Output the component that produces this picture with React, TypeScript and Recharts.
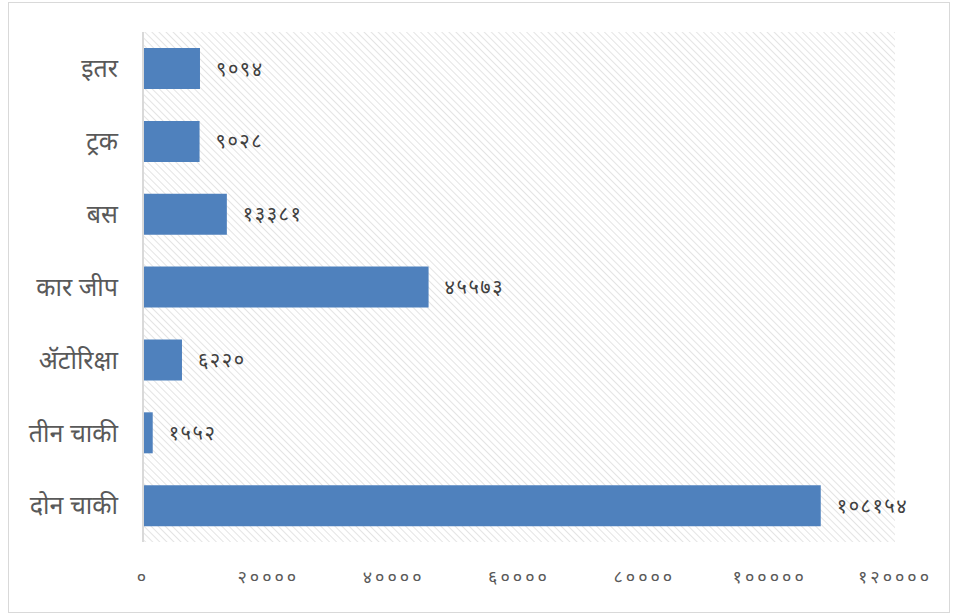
import React from 'react';
import { BarChart, Bar, XAxis, YAxis, CartesianGrid, LabelList } from 'recharts';

const categories = ['इतर', 'ट्रक', 'बस', 'कार जीप', 'ॲटोरिक्षा', 'तीन चाकी', 'दोन चाकी'];
const vehicleCounts = [9094, 9028, 13381, 45573, 6220, 1552, 108154];
const xTicks = [0, 20000, 40000, 60000, 80000, 100000, 120000];

const devDigits = ['०', '१', '२', '३', '४', '५', '६', '७', '८', '९'];
const toDevanagari = (v: number | string) =>
  String(v).replace(/[0-9]/g, d => devDigits[Number(d)]);

const data = categories.map((name, i) => ({ name, value: vehicleCounts[i] }));

const font = '"Noto Sans", "Noto Sans Devanagari", sans-serif';

const App: React.FC = () => {
  return (
    <div
      style={{
        position: 'absolute',
        left: 8,
        top: 2,
        width: 940,
        height: 609,
        border: '1px solid #d9d9d9',
        background: '#fff',
      }}
    >
      <BarChart
        width={940}
        height={609}
        data={data}
        layout="vertical"
        margin={{ top: 29, right: 54, bottom: 0, left: 0 }}
        barCategoryGap="22%"
      >
        <defs>
          <pattern
            id="hatch"
            patternUnits="userSpaceOnUse"
            width={5}
            height={5}
            patternTransform="rotate(-45)"
          >
            <rect width={5} height={5} fill="#ffffff" />
            <line x1={0} y1={0} x2={0} y2={5} stroke="#dedede" strokeWidth={1.6} />
          </pattern>
        </defs>
        <CartesianGrid horizontal={false} vertical={false} fill="url(#hatch)" fillOpacity={1} />
        <XAxis
          type="number"
          domain={[0, 120000]}
          ticks={xTicks}
          tickFormatter={toDevanagari}
          axisLine={false}
          tickLine={false}
          tickSize={0}
          tickMargin={28}
          height={70}
          tick={{ fill: '#595959', fontSize: 18, fontFamily: font, letterSpacing: 3 }}
        />
        <YAxis
          type="category"
          dataKey="name"
          width={134}
          axisLine={{ stroke: '#d9d9d9', strokeWidth: 2 }}
          tickLine={false}
          tickSize={0}
          tickMargin={25}
          tick={{ fill: '#595959', fontSize: 25, fontFamily: font }}
        />
        <Bar dataKey="value" fill="#4f81bd" isAnimationActive={false}>
          <LabelList
            dataKey="value"
            position="right"
            offset={16}
            formatter={(v: any) => toDevanagari(v)}
            style={{ fill: '#404040', fontSize: 20, fontFamily: font, letterSpacing: 1.5 }}
          />
        </Bar>
      </BarChart>
    </div>
  );
};

export default App;
